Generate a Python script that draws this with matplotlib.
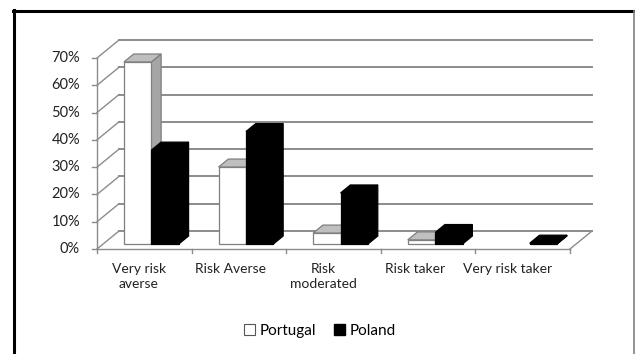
import numpy as np
import matplotlib.pyplot as plt
from matplotlib.patches import Polygon, Patch
from matplotlib.lines import Line2D

plt.rcParams['font.family'] = ['Lato', 'DejaVu Sans']

categories = ['Very risk\naverse', 'Risk Averse', 'Risk\nmoderated', 'Risk taker', 'Very risk taker']
portugal = [66.7, 28.2, 4.0, 1.5, 0.0]
poland = [34.4, 41.2, 18.7, 4.2, 0.3]
yticks = [0, 10, 20, 30, 40, 50, 60, 70]
ytick_labels = ['0%', '10%', '20%', '30%', '40%', '50%', '60%', '70%']

W, H = 635, 354
fig = plt.figure(figsize=(W / 100, H / 100), dpi=100)
ax = fig.add_axes([0, 0, 1, 1])

# front floor runs from x=97 to x=570 px, 0% at y=249 px and 70% at y=58 px
px_x = (570 - 97) / len(categories)
px_y = (249 - 58) / 70.0
ax.set_xlim(-97 / px_x, (W - 97) / px_x)
ax.set_ylim(-(H - 249) / px_y, 249 / px_y)
ax.axis('off')

# oblique offset for the full floor depth
DX = 22 / px_x
DY = 18 / px_y
grid_c = '#8c8c8c'

# walls and floor
for v in yticks:
    ax.plot([DX, len(categories) + DX], [v + DY, v + DY], color=grid_c, lw=1.4, zorder=1)
    ax.plot([0, DX], [v, v + DY], color=grid_c, lw=1.0, zorder=1)
    ax.plot([-5 / px_x, 0], [v, v], color=grid_c, lw=1.0, zorder=1)
    ax.text(-17 / px_x, v, ytick_labels[v // 10], ha='right', va='center',
            fontsize=10.5, color='#222222')
ax.plot([0, 0], [0, yticks[-1]], color=grid_c, lw=1.0, zorder=1)
ax.plot([0, len(categories)], [0, 0], color=grid_c, lw=1.0, zorder=1)
ax.plot([len(categories), len(categories) + DX], [0, DY], color=grid_c, lw=1.0, zorder=1)
for i in range(len(categories) + 1):
    ax.plot([i, i], [0, -4 / px_y], color=grid_c, lw=1.0, zorder=1)

# bars sit in the middle of the floor depth
d0 = 5 / 18.0
dd = 8 / 18.0
sx, sy = d0 * DX, d0 * DY
bx, by = dd * DX, dd * DY
bw = 0.29


def draw_bar(x0, h, face, top, side, edge):
    b = sy
    front = [(x0, b), (x0 + bw, b), (x0 + bw, b + h), (x0, b + h)]
    cap = [(x0, b + h), (x0 + bw, b + h), (x0 + bw + bx, b + h + by), (x0 + bx, b + h + by)]
    rside = [(x0 + bw, b), (x0 + bw + bx, b + by), (x0 + bw + bx, b + h + by), (x0 + bw, b + h)]
    for pts, fc in [(rside, side), (cap, top), (front, face)]:
        ax.add_patch(Polygon(pts, closed=True, facecolor=fc, edgecolor=edge, lw=0.9, zorder=3))


for i in range(len(categories)):
    c = i + 0.5 + sx + 0.01
    if portugal[i] > 0:
        draw_bar(c - bw, portugal[i], 'white', '#bfbfbf', '#a6a6a6', '#7f7f7f')
    if poland[i] > 0:
        draw_bar(c, poland[i], 'black', 'black', 'black', 'black')

    ax.text(i + 0.44 - 0.025 * i, -14 / px_y, categories[i], ha='center', va='top',
            fontsize=10, linespacing=1.3, color='#222222')

fig.legend(handles=[Patch(facecolor='white', edgecolor='#555555', lw=0.8),
                    Patch(facecolor='black', edgecolor='black')],
           labels=['Portugal', 'Poland'], loc='center',
           bbox_to_anchor=(320 / W, 1 - 331 / H), ncol=2, frameon=False,
           handlelength=0.7, handleheight=0.7, handletextpad=0.3,
           columnspacing=1.2, fontsize=11)

# chart border
fig.add_artist(Line2D([13 / W, 1], [1 - 10.5 / H, 1 - 10.5 / H], color='black', lw=2.2))
fig.add_artist(Line2D([14 / W, 14 / W], [0, 1 - 10 / H], color='black', lw=2.2))
fig.add_artist(Line2D([634 / W, 634 / W], [0, 1 - 11 / H], color='#808080', lw=1.2))

fig.savefig('out.png', dpi=100)
